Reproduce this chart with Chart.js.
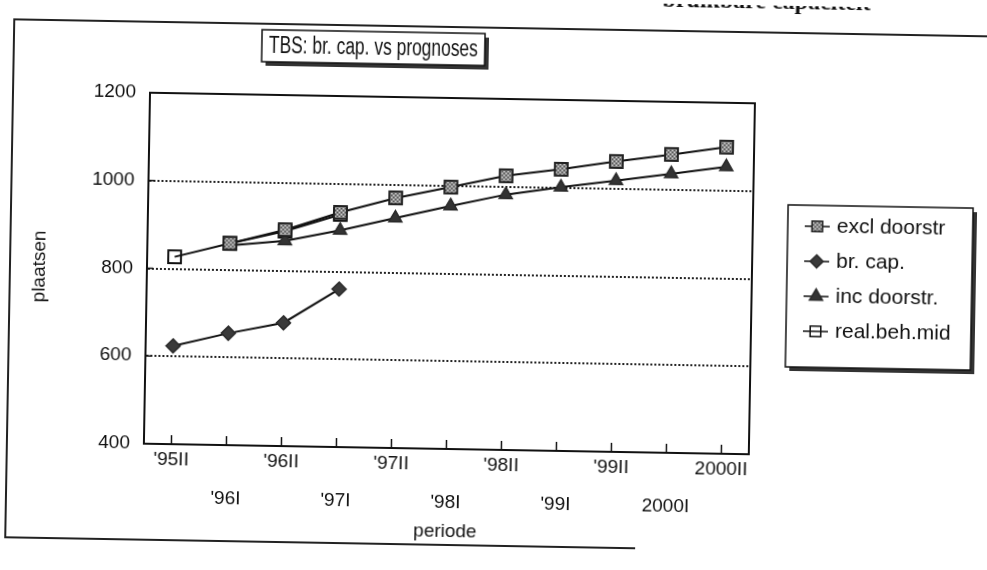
<!DOCTYPE html>
<html>
<head>
<meta charset="utf-8">
<script src="https://cdn.jsdelivr.net/npm/chart.js@4.4.1/dist/chart.umd.min.js"></script>
<style>
html,body{margin:0;padding:0;background:#fff;overflow:hidden;width:987px;height:570px;}
#wrap{position:absolute;left:0;top:0;width:987px;height:570px;transform:rotate(1deg);transform-origin:450px 268px;}
canvas{display:block;}
</style>
</head>
<body>
<div id="wrap"><canvas id="c" width="987" height="570"></canvas></div>
<script>
// ---- data ----
const categories = ["'95II","'96I","'96II","'97I","'97II","'98I","'98II","'99I","'99II","2000I","2000II"];
const exclDoorstr = [null, 860, 893, 935, 970, 997, 1025, 1042, 1062, 1080, 1099];
const brCap       = [624, 655, 681, 760, null, null, null, null, null, null, null];
const incDoorstr  = [null, 855, 868, 894, 924, 954, 982, 1001, 1018, 1036, 1054];
const realBehMid  = [827, 860, 890, 930, null, null, null, null, null, null, null];
const seriesNames = ["excl doorstr", "br. cap.", "inc doorstr.", "real.beh.mid"];
const yTicks = [400, 600, 800, 1000, 1200];
const gridValues = [600, 800, 1000];
const chartTitle = "TBS: br. cap. vs prognoses";
const headerText = "bruikbare capaciteit";
const xTitle = "periode";
const yTitle = "plaatsen";

// textured fill for the "excl doorstr" squares
const pc = document.createElement('canvas'); pc.width = 4; pc.height = 4;
const pctx = pc.getContext('2d');
pctx.fillStyle = '#8e8e8e'; pctx.fillRect(0,0,4,4);
pctx.fillStyle = '#d0d0d0'; pctx.fillRect(0,0,1,1); pctx.fillRect(2,2,1,1);
pctx.fillStyle = '#505050'; pctx.fillRect(2,0,1,1); pctx.fillRect(0,2,1,1);
const texture = pctx.createPattern(pc, 'repeat');

const FONT = '"Liberation Sans", Arial, sans-serif';
Chart.defaults.font.family = FONT;
Chart.defaults.color = '#111';

function marker(ctx, style, x, y, r, fill, stroke, bw) {
  ctx.save();
  ctx.fillStyle = fill; ctx.strokeStyle = stroke; ctx.lineWidth = bw;
  ctx.beginPath();
  if (style === 'rect') {
    const s = r * Math.SQRT1_2; ctx.rect(x - s, y - s, 2 * s, 2 * s);
  } else if (style === 'rectRot') {
    ctx.moveTo(x, y - r); ctx.lineTo(x + r, y); ctx.lineTo(x, y + r); ctx.lineTo(x - r, y); ctx.closePath();
  } else if (style === 'triangle') {
    ctx.moveTo(x, y - r);
    ctx.lineTo(x + r * Math.sin(2*Math.PI/3), y - r * Math.cos(2*Math.PI/3));
    ctx.lineTo(x + r * Math.sin(4*Math.PI/3), y - r * Math.cos(4*Math.PI/3));
    ctx.closePath();
  }
  ctx.fill(); ctx.stroke();
  ctx.restore();
}

const decor = {
  id: 'decor',
  beforeDraw(chart) {
    const ctx = chart.ctx;
    ctx.save();
    ctx.fillStyle = '#fff'; ctx.fillRect(0, 0, chart.width, chart.height);
    // cut-off header line of the scanned page
    ctx.fillStyle = '#111';
    ctx.font = 'bold 24px "Liberation Serif", serif';
    ctx.textAlign = 'right'; ctx.textBaseline = 'alphabetic';
    ctx.fillText(headerText, 866, 3);
    // page frame
    ctx.strokeStyle = '#222'; ctx.lineWidth = 2;
    ctx.beginPath();
    ctx.moveTo(1000, 27); ctx.lineTo(10, 27); ctx.lineTo(10, 545); ctx.lineTo(640, 545);
    ctx.stroke();
    // title box with shadow
    const tb = {x: 258, y: 33, w: 223, h: 32};
    ctx.fillStyle = '#333'; ctx.fillRect(tb.x + 4, tb.y + 4, tb.w, tb.h);
    ctx.fillStyle = '#fff'; ctx.fillRect(tb.x, tb.y, tb.w, tb.h);
    ctx.strokeStyle = '#111'; ctx.lineWidth = 1.5; ctx.strokeRect(tb.x, tb.y, tb.w, tb.h);
    ctx.fillStyle = '#111';
    ctx.font = '23px ' + FONT;
    ctx.textAlign = 'center'; ctx.textBaseline = 'middle';
    ctx.fillText(chartTitle, tb.x + tb.w / 2, tb.y + tb.h / 2 + 1, tb.w - 14);
    ctx.restore();
  },
  afterDraw(chart) {
    const ctx = chart.ctx;
    const a = chart.chartArea;
    const xs = chart.scales.x, ys = chart.scales.y;
    ctx.save();
    ctx.strokeStyle = '#111'; ctx.lineWidth = 2;
    // top & right border of plot
    ctx.beginPath();
    ctx.moveTo(a.left, a.top); ctx.lineTo(a.right, a.top); ctx.lineTo(a.right, a.bottom);
    ctx.stroke();
    // inner tick marks
    ctx.lineWidth = 1.5;
    categories.forEach((c, i) => {
      const px = xs.getPixelForValue(i);
      ctx.beginPath(); ctx.moveTo(px, a.bottom); ctx.lineTo(px, a.bottom - 9); ctx.stroke();
    });
    gridValues.forEach(v => {
      const py = ys.getPixelForValue(v);
      ctx.beginPath(); ctx.moveTo(a.left, py); ctx.lineTo(a.left + 6, py); ctx.stroke();
    });
    // legend box
    const lg = {x: 787, y: 199, w: 185, h: 162};
    ctx.fillStyle = '#333'; ctx.fillRect(lg.x + 4, lg.y + 4, lg.w, lg.h);
    ctx.fillStyle = '#fff'; ctx.fillRect(lg.x, lg.y, lg.w, lg.h);
    ctx.strokeStyle = '#111'; ctx.lineWidth = 1.5; ctx.strokeRect(lg.x, lg.y, lg.w, lg.h);
    chart.data.datasets.forEach((ds, i) => {
      const ry = 220 + i * 35;
      ctx.strokeStyle = '#111'; ctx.lineWidth = 1.5;
      ctx.beginPath(); ctx.moveTo(804, ry); ctx.lineTo(829, ry); ctx.stroke();
      marker(ctx, ds.pointStyle, 816.5, ry, ds.legendRadius, ds.pointBackgroundColor, ds.pointBorderColor, 1.5);
      ctx.fillStyle = '#111';
      ctx.font = '21px ' + FONT;
      ctx.textAlign = 'left'; ctx.textBaseline = 'middle';
      ctx.fillText(ds.label, 836, ry);
    });
    ctx.restore();
  }
};

new Chart(document.getElementById('c'), {
  type: 'line',
  data: {
    labels: categories,
    datasets: [
      { label: seriesNames[0], data: exclDoorstr, order: 0, borderColor: '#111', borderWidth: 2,
        pointStyle: 'rect', pointRadius: 9, legendRadius: 7.5, pointBackgroundColor: texture, pointBorderColor: '#222', pointBorderWidth: 2 },
      { label: seriesNames[1], data: brCap, order: 1, borderColor: '#111', borderWidth: 2,
        pointStyle: 'rectRot', pointRadius: 7, legendRadius: 6.5, pointBackgroundColor: '#3a3a3a', pointBorderColor: '#2a2a2a', pointBorderWidth: 1.5 },
      { label: seriesNames[2], data: incDoorstr, order: 2, borderColor: '#111', borderWidth: 2,
        pointStyle: 'triangle', pointRadius: 7.5, legendRadius: 7.5, pointBackgroundColor: '#333', pointBorderColor: '#2a2a2a', pointBorderWidth: 1.5 },
      { label: seriesNames[3], data: realBehMid, order: 3, borderColor: '#111', borderWidth: 2,
        pointStyle: 'rect', pointRadius: 9, legendRadius: 7.5, pointBackgroundColor: 'rgba(255,255,255,0)', pointBorderColor: '#111', pointBorderWidth: 2 }
    ]
  },
  options: {
    responsive: false,
    animation: false,
    events: [],
    layout: { padding: { left: 28, top: 98, right: 235, bottom: 27 } },
    plugins: { legend: { display: false }, tooltip: { enabled: false }, title: { display: false } },
    elements: { line: { tension: 0 } },
    scales: {
      x: {
        type: 'category',
        offset: true,
        grid: { display: false, drawTicks: false },
        border: { display: true, color: '#111', width: 2 },
        ticks: {
          autoSkip: false, maxRotation: 0, minRotation: 0, padding: 6,
          color: '#111', font: { size: 19, lineHeight: '19px' },
          callback: function (v, i) {
            const l = this.getLabelForValue(v);
            return i % 2 === 0 ? [l] : ['', '', l];
          }
        },
        title: { display: true, text: xTitle, color: '#111', font: { size: 19 }, padding: 0 },
        afterFit(s) { s.height = 94; }
      },
      y: {
        min: yTicks[0], max: yTicks[yTicks.length - 1],
        afterBuildTicks(s) { s.ticks = yTicks.map(v => ({ value: v })); },
        grid: {
          drawTicks: false, lineWidth: 2,
          color: c => (c.tick && gridValues.includes(c.tick.value)) ? '#222' : 'rgba(0,0,0,0)'
        },
        border: { display: true, color: '#111', width: 2, dash: [2, 2] },
        ticks: { padding: 14, color: '#111', font: { size: 19 }, callback: v => String(v) },
        title: { display: true, text: yTitle, color: '#111', font: { size: 19 }, padding: 0 },
        afterFit(s) { s.width = 119; }
      }
    }
  },
  plugins: [decor]
});
</script>
</body>
</html>
